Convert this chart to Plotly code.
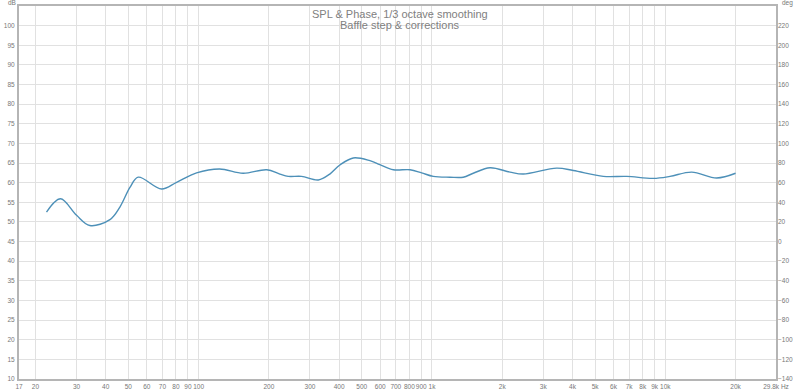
import math
import plotly.graph_objects as go

# Data
freq_hz = [22.3, 25.6, 30, 34.2, 41.7, 46, 50.8, 55.1, 69.4, 80.5, 98, 123, 155, 196, 223,
           242, 276, 326, 365, 403, 460, 542, 598, 683, 805, 903, 1013, 1194, 1362, 1503,
           1773, 2159, 2461, 3423, 4033, 5423, 6835, 8882, 10470, 12970, 16600, 20000]
spl_db = [52.5, 55.9, 51.7, 49.1, 50.6, 53.8, 58.8, 61.4, 58.4, 60.1, 62.5, 63.5, 62.4, 63.3, 62.2,
          61.6, 61.6, 60.7, 62.2, 64.5, 66.3, 65.6, 64.6, 63.3, 63.3, 62.5, 61.6, 61.4, 61.4, 62.4,
          63.8, 62.7, 62.2, 63.7, 63.1, 61.6, 61.6, 61.1, 61.6, 62.7, 61.2, 62.4]

x_tickvals = [17, 20, 30, 40, 50, 60, 70, 80, 90, 100, 200, 300, 400, 500, 600, 700, 800, 900,
              1000, 2000, 3000, 4000, 5000, 6000, 7000, 8000, 9000, 10000, 20000, 29800]
x_ticktext = ["17", "20", "30", "40", "50", "60", "70", "80", "90", "100", "200", "300", "400",
              "500", "600", "700", "800", "900", "1k", "2k", "3k", "4k", "5k", "6k", "7k", "8k",
              "9k", "10k", "20k", "29.8k Hz"]
db_ticks = list(range(10, 101, 5))
deg_ticks = list(range(-140, 221, 20))

title_line1 = "SPL & Phase, 1/3 octave smoothing"
title_line2 = "Baffle step & corrections"

tick_font = dict(family="Liberation Sans, Arial", size=6.5, color="#777777")
grid_col = "#e1e1e1"
frame_col = "#b5b5b5"

# plot area in pixels
plot_l, plot_t, plot_r, plot_b = 19, 6, 24, 11
plot_w, plot_h = 800 - plot_l - plot_r, 390 - plot_t - plot_b


def px2paper(px, py):
    return (px - plot_l) / plot_w, 1 - (py - plot_t) / plot_h


fig = go.Figure()
fig.add_trace(go.Scatter(x=freq_hz, y=spl_db, mode="lines",
                         line=dict(color="#4d90b8", width=1.4, shape="spline", smoothing=1.0),
                         hoverinfo="skip", showlegend=False))
# invisible trace to show the phase axis
fig.add_trace(go.Scatter(x=[17, 29800], y=[-140, 240], yaxis="y2", mode="lines",
                         line=dict(width=0, color="rgba(0,0,0,0)"), hoverinfo="skip",
                         showlegend=False))

title_font = dict(family="Liberation Sans, Arial", size=11, color="#808080")
anns = []
for text, (px, py), font in [
    (title_line1, (400, 13.5), title_font),
    (title_line2, (400, 24.5), title_font),
    ("dB", (12, 3), tick_font),
    ("deg", (787, 3), tick_font),
]:
    ax, ay = px2paper(px, py)
    anns.append(dict(text=text, x=ax, y=ay, xref="paper", yref="paper", showarrow=False,
                     xanchor="center", yanchor="middle", font=font))

fig.update_layout(
    width=800, height=390,
    margin=dict(l=plot_l, r=plot_r, t=plot_t, b=plot_b, autoexpand=False),
    paper_bgcolor="white", plot_bgcolor="white",
    xaxis=dict(type="log", range=[math.log10(17), math.log10(29800)],
               tickmode="array", tickvals=x_tickvals, ticktext=x_ticktext, tickangle=0,
               tickfont=tick_font, ticks="", showgrid=True, gridcolor=grid_col, gridwidth=1,
               showline=True, linecolor=frame_col, linewidth=2, mirror=True,
               zeroline=False, automargin=False, ticklabelstandoff=0),
    yaxis=dict(range=[10, 105], tickmode="array", tickvals=db_ticks,
               tickfont=tick_font, ticks="", showgrid=True, gridcolor=grid_col, gridwidth=1,
               showline=True, linecolor=frame_col, linewidth=2, mirror=True,
               zeroline=False, automargin=False, ticklabelstandoff=1),
    yaxis2=dict(range=[-140, 240], overlaying="y", side="right", tickmode="array",
                tickvals=deg_ticks, tickfont=tick_font, ticks="", showgrid=False,
                zeroline=False, showline=False, automargin=False, ticklabelstandoff=1),
    annotations=anns,
)

fig.write_html("out.html")
